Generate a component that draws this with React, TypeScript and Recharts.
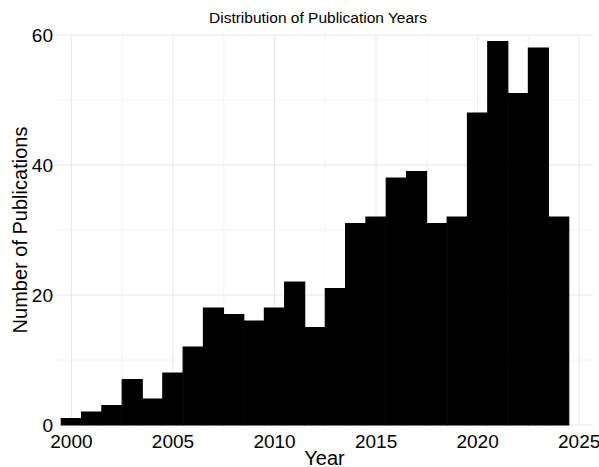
import { BarChart, Bar, XAxis, YAxis, CartesianGrid } from "recharts";

// Publication counts per year (histogram bins of width 1)
const years = [
  2000, 2001, 2002, 2003, 2004, 2005, 2006, 2007, 2008, 2009, 2010, 2011, 2012,
  2013, 2014, 2015, 2016, 2017, 2018, 2019, 2020, 2021, 2022, 2023, 2024,
];
const counts = [
  1, 2, 3, 7, 4, 8, 12, 18, 17, 16, 18, 22, 15, 21, 31, 32, 38, 39, 31, 32, 48,
  59, 51, 58, 32,
];

const xTicks = [2000, 2005, 2010, 2015, 2020, 2025];
const xMinor = [2002.5, 2007.5, 2012.5, 2017.5, 2022.5];
const yTicks = [0, 20, 40, 60];
const yMinor = [10, 30, 50];

const data = years.map((year, i) => ({ year, count: counts[i] }));

const font = "'Liberation Sans', Arial, sans-serif";

export default function App() {
  return (
    <div
      style={{
        position: "absolute",
        left: 0,
        top: 0,
        width: 599,
        height: 467,
        background: "#fff",
        fontFamily: font,
        overflow: "hidden",
      }}
    >
      <div
        style={{
          position: "absolute",
          top: 9,
          left: 56,
          width: 524,
          textAlign: "center",
          fontSize: 15.5,
          color: "#000",
          whiteSpace: "nowrap",
        }}
      >
        Distribution of Publication Years
      </div>
      <BarChart
        width={599}
        height={467}
        data={data}
        margin={{ top: 35, right: 6, left: 0, bottom: 0 }}
        barCategoryGap={0}
        barGap={0}
      >
        <CartesianGrid
          stroke="#f4f4f4"
          horizontalValues={yMinor}
          verticalValues={xMinor}
        />
        <CartesianGrid
          stroke="#e8e8e8"
          horizontalValues={yTicks}
          verticalValues={xTicks}
        />
        <XAxis
          dataKey="year"
          type="number"
          domain={[1999.24, 2025.68]}
          ticks={xTicks}
          allowDataOverflow
          axisLine={false}
          tickLine={false}
          tickMargin={4}
          height={42}
          tick={{ fontSize: 19, fill: "#000", fontFamily: font }}
          label={{
            value: "Year",
            position: "insideBottom",
            offset: 2,
            style: { fontSize: 20, fill: "#000", fontFamily: font },
          }}
        />
        <YAxis
          domain={[0, 60]}
          ticks={yTicks}
          axisLine={false}
          tickLine={false}
          tickSize={3}
          tickMargin={0}
          width={56}
          tick={{ fontSize: 19, fill: "#000", fontFamily: font }}
          label={{
            value: "Number of Publications",
            angle: -90,
            position: "insideLeft",
            offset: 20,
            style: {
              fontSize: 20,
              fill: "#000",
              fontFamily: font,
              textAnchor: "middle",
            },
          }}
        />
        <Bar
          dataKey="count"
          fill="#000"
          stroke="#000"
          strokeWidth={1.2}
          isAnimationActive={false}
        />
      </BarChart>
    </div>
  );
}
